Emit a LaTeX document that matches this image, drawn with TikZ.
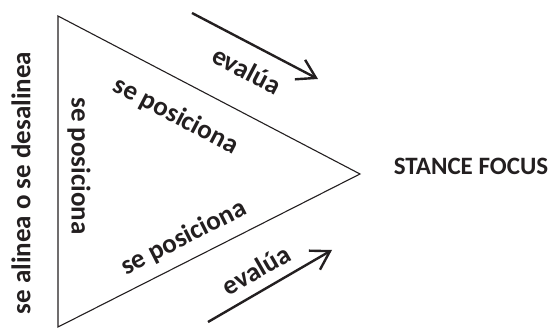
\documentclass[tikz,border=0pt]{standalone}
\usepackage{fontspec}
\setmainfont{Carlito}
\usetikzlibrary{arrows.meta}
\definecolor{tinta}{RGB}{35,31,32}

\begin{document}
\begin{tikzpicture}[x=1pt,y=-1pt,
	lab/.style={font=\bfseries\fontsize{27}{31}\selectfont,text=tinta,inner sep=0pt},
	flecha/.style={tinta,line width=2.4pt,-{Straight Barb[length=18pt,width=22pt]}}]
	\useasboundingbox (0,0) rectangle (549,328);
	% triangulo
	\coordinate (tl) at (58,16);
	\coordinate (bl) at (58,327);
	\coordinate (der) at (360,174);
	\draw[tinta,line width=1.1pt] (tl) -- (der) -- (bl) -- cycle;
	% textos
	\node[lab,rotate=90] (alinea) at (21,183) {se alinea o se desalinea};
	\node[lab,rotate=-90] (posIzq) at (79,166) {se posiciona};
	\node[lab,rotate=-27.6] (posSup) at (176,116) {se posiciona};
	\node[lab,rotate=27] (posInf) at (184,238) {se posiciona};
	\node[lab,rotate=-27.6] (evalSup) at (247,70) {evalúa};
	\node[lab,rotate=30] (evalInf) at (256,270) {evalúa};
	\node[font=\bfseries\fontsize{25}{29}\selectfont,text=tinta,inner sep=0pt] (stance) at (471,166) {STANCE FOCUS};
	% flechas
	\coordinate (a1) at (192,13);
	\coordinate (a2) at (318,79);
	\coordinate (b1) at (208,322);
	\coordinate (b2) at (332,250);
	\draw[flecha] (a1) -- (a2);
	\draw[flecha] (b1) -- (b2);
\end{tikzpicture}
\end{document}
